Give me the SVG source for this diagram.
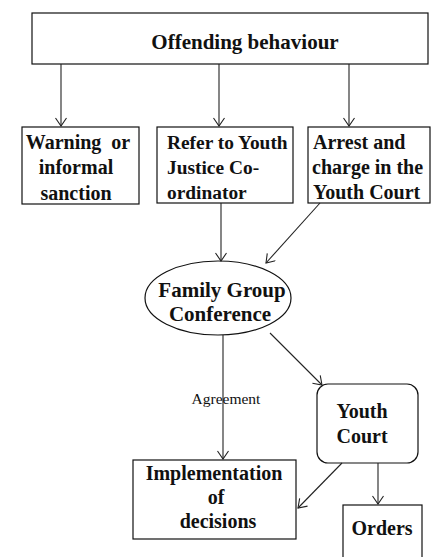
<svg xmlns="http://www.w3.org/2000/svg" width="447" height="557" viewBox="0 0 447 557">
<style>
.box{fill:#fff;stroke:#111;stroke-width:1.2}
.t{font-family:"Liberation Serif","Times New Roman",serif;font-weight:bold;font-size:20px;fill:#111}
.c{text-anchor:middle}
.lbl{font-family:"Liberation Serif","Times New Roman",serif;font-size:15.5px;fill:#111;text-anchor:middle}
.con line{stroke:#222;stroke-width:1.1;marker-end:url(#ah)}
</style>
<defs>
<marker id="ah" markerWidth="14" markerHeight="14" refX="9" refY="6" orient="auto" markerUnits="userSpaceOnUse">
<path d="M1,0.5 L9,6 L1,11.5" fill="none" stroke="#222" stroke-width="1.1"/>
</marker>
</defs>
<rect width="447" height="557" fill="#fff"/>
<g id="offending">
<rect class="box" x="32" y="13" width="396" height="51"/>
<text class="t c" x="245" y="49" style="font-size:21px">Offending behaviour</text>
</g>
<g id="warning">
<rect class="box" x="22" y="127" width="117" height="77"/>
<text class="t c" x="78" y="149" xml:space="preserve">Warning  or</text>
<text class="t c" x="76" y="174">informal</text>
<text class="t c" x="76" y="200">sanction</text>
</g>
<g id="refer">
<rect class="box" x="157" y="127" width="136" height="76"/>
<text class="t" x="167" y="149" style="font-size:19.4px">Refer to Youth</text>
<text class="t" x="167" y="174" style="font-size:19.4px">Justice Co-</text>
<text class="t" x="167" y="199" style="font-size:19.4px">ordinator</text>
</g>
<g id="arrest">
<rect class="box" x="308" y="127" width="122" height="76"/>
<text class="t" x="313" y="149">Arrest and</text>
<text class="t" x="312" y="174">charge in the</text>
<text class="t" x="313" y="199">Youth Court</text>
</g>
<g id="fgc">
<ellipse class="box" cx="218" cy="298" rx="73" ry="37"/>
<text class="t c" x="222" y="297" style="font-size:21px">Family Group</text>
<text class="t c" x="220" y="321" style="font-size:21px">Conference</text>
</g>
<g id="implementation">
<rect class="box" x="133" y="460" width="163" height="79"/>
<text class="t c" x="214" y="480">Implementation</text>
<text class="t c" x="216" y="504">of</text>
<text class="t c" x="218" y="528">decisions</text>
</g>
<g id="youthcourt">
<rect class="box" x="317" y="384" width="101" height="79" rx="11" ry="11"/>
<text class="t c" x="362" y="418">Youth</text>
<text class="t c" x="362" y="443">Court</text>
</g>
<g id="orders">
<rect class="box" x="343" y="505" width="79" height="60"/>
<text class="t c" x="382" y="535">Orders</text>
</g>
<g id="connectors" class="con">
<line x1="61" y1="64" x2="61" y2="126"/>
<line x1="219" y1="64" x2="219" y2="126"/>
<line x1="349" y1="64" x2="349" y2="126"/>
<line x1="221" y1="203" x2="221" y2="261"/>
<line x1="320" y1="203" x2="266" y2="263"/>
<line x1="223" y1="335" x2="223" y2="459"/>
<line x1="270" y1="333" x2="322" y2="385"/>
<line x1="342" y1="463" x2="298" y2="508"/>
<line x1="378" y1="463" x2="378" y2="504"/>
<text class="lbl" x="226" y="404">Agreement</text>
</g>
</svg>
